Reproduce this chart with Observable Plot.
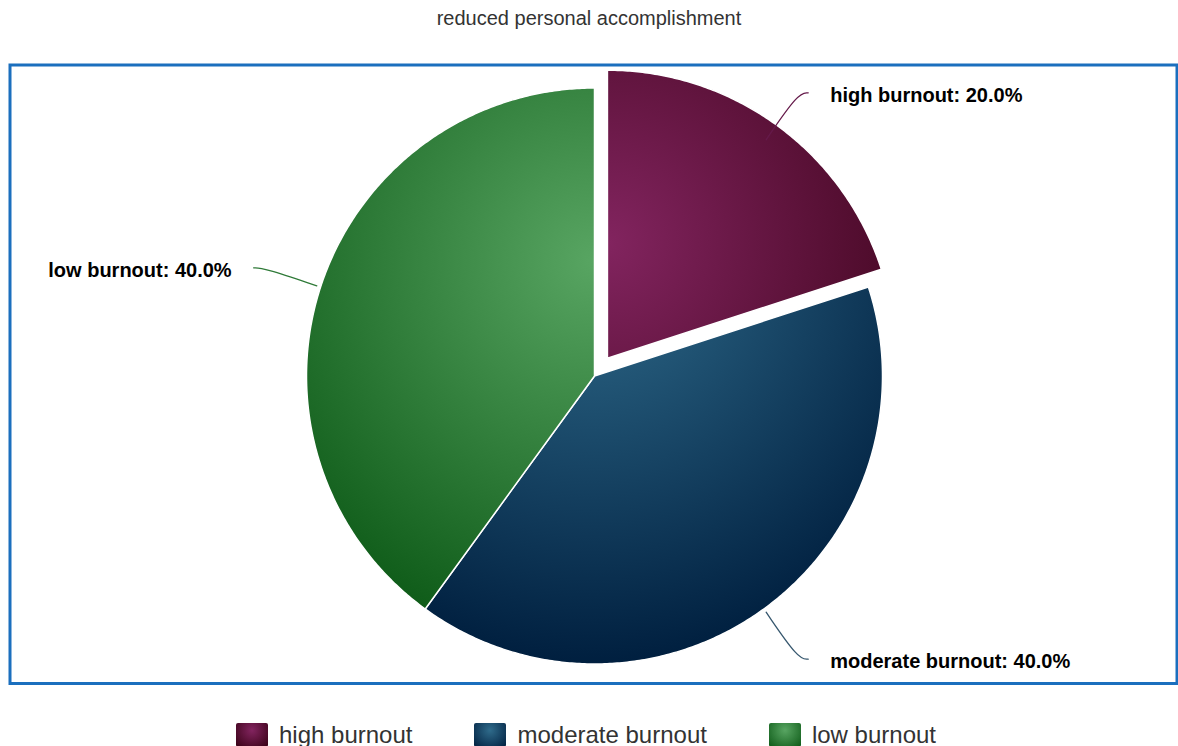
<!DOCTYPE html>
<html><head><meta charset="utf-8">
<script src="https://cdn.jsdelivr.net/npm/d3@7"></script>
<script src="https://cdn.jsdelivr.net/npm/@observablehq/plot@0.6"></script>
<style>
body{margin:0;background:#fff;font-family:"Liberation Sans",Arial,sans-serif;width:1178px;overflow:hidden;}
#title{height:36px;line-height:36px;text-align:center;font-size:20px;color:#333;}
#chart{height:664px;}
#legend{display:flex;justify-content:center;gap:62px;margin-top:22px;height:26px;align-items:center;font-size:24px;color:#333;padding-right:6px;}
.item{display:flex;align-items:center;gap:11px;white-space:nowrap;}
.sw{width:32px;height:24px;border-radius:2px;}
</style></head><body>
<div id="title">reduced personal accomplishment</div>
<div id="chart"></div>
<div id="legend"></div>
<script>
// ---- data ----
const categories = ["high burnout", "moderate burnout", "low burnout"];
const shares = [20.0, 40.0, 40.0];
const exploded = [true, false, false];
const baseColors = ["#82245f", "#2f6b8b", "#58a562"];
const connectorColors = ["#651a4a", "#36576e", "#2f7a38"];

// ---- layout config (pixels) ----
const W = 1178, H = 664;
const mL = 9.5, mR = 1.5, mT = 28.5, mB = 17;
const cxPx = 594, cyPx = 339.5, Rpx = 288;
const explodePx = 22, labelDistPx = 62, connGapPx = 4, connTailPx = 8, labelPadPx = 22;

function darken(hex, amt) {
  const c = d3.rgb(hex);
  return d3.rgb(Math.max(0, c.r - amt), Math.max(0, c.g - amt), Math.max(0, c.b - amt)).formatHex();
}

const slices = categories.map((name, i) => ({name, value: shares[i], i}));
const arcs = d3.pie().sort(null).value(d => d.value)(slices);
const u = 1 / Rpx; // data units per pixel

const sliceMarks = [], connMarks = [], textMarks = [];
arcs.forEach(a => {
  const i = a.data.i;
  const mid = (a.startAngle + a.endAngle) / 2;
  const off = exploded[i] ? explodePx * u : 0;
  const ox = off * Math.sin(mid), oy = off * Math.cos(mid);
  const pts = [{x: ox, y: oy}];
  const n = Math.max(2, Math.ceil((a.endAngle - a.startAngle) / (Math.PI / 360)));
  for (let k = 0; k <= n; k++) {
    const t = a.startAngle + (a.endAngle - a.startAngle) * k / n;
    pts.push({x: ox + Math.sin(t), y: oy + Math.cos(t)});
  }
  sliceMarks.push(Plot.line(pts, {x: "x", y: "y", curve: "linear-closed",
    fill: `url(#grad-${i})`, stroke: "#ffffff", strokeWidth: 1.5, strokeLinejoin: "round"}));

  const side = Math.sin(mid) >= 0 ? 1 : -1;
  const rs = 1 + connGapPx * u, rl = 1 + labelDistPx * u;
  const start = {x: rs * Math.sin(mid), y: rs * Math.cos(mid)};
  const end = {x: rl * Math.sin(mid) + side * connTailPx * u, y: rl * Math.cos(mid)};
  const ctrl = {x: end.x - side * 10 * u, y: end.y};
  connMarks.push(Plot.line([start, ctrl, end], {x: "x", y: "y", curve: "basis",
    stroke: connectorColors[i], strokeWidth: 1.3}));
  textMarks.push(Plot.text([{x: end.x + side * labelPadPx * u, y: end.y,
    label: `${a.data.name}: ${a.data.value.toFixed(1)}%`}], {
    x: "x", y: "y", text: "label", textAnchor: side > 0 ? "start" : "end",
    dy: 2.5, fontSize: 20, fontWeight: "bold", fill: "#000"}));
});

const chart = Plot.plot({
  width: W, height: H,
  marginLeft: mL, marginRight: mR, marginTop: mT, marginBottom: mB,
  x: {domain: [(mL - cxPx) * u, (W - mR - cxPx) * u], axis: null},
  y: {domain: [(cyPx - (H - mB)) * u, (cyPx - mT) * u], axis: null},
  style: {fontFamily: '"Liberation Sans", Arial, sans-serif', background: "#fff", overflow: "visible"},
  marks: [
    ...sliceMarks,
    ...connMarks,
    ...textMarks,
    Plot.frame({stroke: "#1b6fbe", strokeWidth: 3})
  ]
});

// gradients (Highcharts-style radial: cx .5, cy .3, r .7 of pie box)
const xs = chart.scale("x"), ys = chart.scale("y");
const ns = "http://www.w3.org/2000/svg";
const defs = document.createElementNS(ns, "defs");
arcs.forEach(a => {
  const i = a.data.i;
  const mid = (a.startAngle + a.endAngle) / 2;
  const off = exploded[i] ? explodePx * u : 0;
  const gx = xs.apply(off * Math.sin(mid)), gy = ys.apply(off * Math.cos(mid) + 0.4);
  const g = document.createElementNS(ns, "radialGradient");
  g.setAttribute("id", `grad-${i}`);
  g.setAttribute("gradientUnits", "userSpaceOnUse");
  g.setAttribute("cx", gx); g.setAttribute("cy", gy); g.setAttribute("r", 1.4 * Rpx);
  [[0, baseColors[i]], [1, darken(baseColors[i], 76)]].forEach(([o, c]) => {
    const s = document.createElementNS(ns, "stop");
    s.setAttribute("offset", o); s.setAttribute("stop-color", c);
    g.appendChild(s);
  });
  defs.appendChild(g);
});
chart.insertBefore(defs, chart.firstChild);
document.getElementById("chart").appendChild(chart);

// legend
const legend = document.getElementById("legend");
categories.forEach((name, i) => {
  const it = document.createElement("div"); it.className = "item";
  const sw = document.createElement("div"); sw.className = "sw";
  sw.style.background = `radial-gradient(circle at 50% 30%, ${baseColors[i]} 0%, ${darken(baseColors[i], 76)} 100%)`;
  const tx = document.createElement("span"); tx.textContent = name;
  it.appendChild(sw); it.appendChild(tx); legend.appendChild(it);
});
</script>
</body></html>
